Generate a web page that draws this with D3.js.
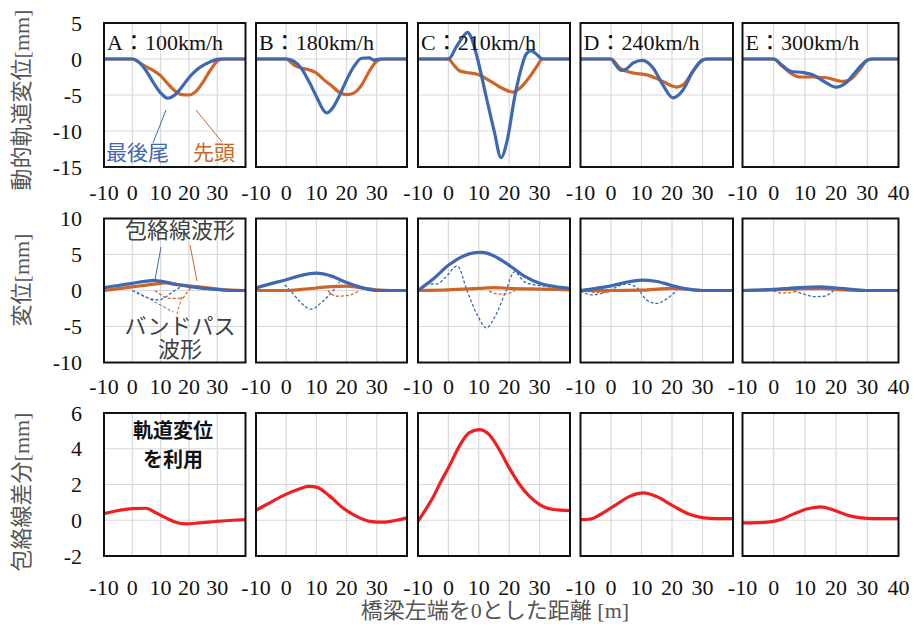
<!DOCTYPE html>
<html lang="ja">
<head>
<meta charset="UTF-8">
<title>包絡線差分</title>
<script src="https://d3js.org/d3.v7.min.js"></script>
<style>
  body { margin: 0; background: #fff; }
  svg text { font-family: "Liberation Serif", "Noto Sans CJK JP", serif; }
</style>
</head>
<body>
<svg id="chart" width="914" height="633"></svg>
<script>
// panel titles and tick labels
const panelNames = ["A：100km/h", "B：180km/h", "C：210km/h", "D：240km/h", "E：300km/h"];
const rowTitles = ["動的軌道変位[mm]", "変位[mm]", "包絡線差分[mm]"];
const xTitle = "橋梁左端を0とした距離 [m]";
const xTicks = [-10, 0, 10, 20, 30, 40];
const rowDomains = [[-15, 5], [-10, 10], [-2, 6]];
const rowTicks = [[5, 0, -5, -10, -15], [10, 5, 0, -5, -10], [6, 4, 2, 0, -2]];

// row 1: dynamic track displacement, 最後尾 (rear) and 先頭 (head), one list per panel A..E
const trackRear = [
  [[-10,0],[0,0],[2.5,-0.5],[5,-1.7],[7.5,-3.3],[10,-4.7],[12.5,-5.45],[15,-5.0],[17.5,-3.9],[20,-2.6],[22.5,-1.6],[25,-0.9],[27.5,-0.4],[30,-0.05],[31,0],[40,0]],
  [[-10,0],[0,0],[2.5,-0.3],[5,-1.3],[7.5,-3.1],[10,-5.2],[12.5,-7.2],[13.5,-7.5],[15,-7.0],[17.5,-5.2],[20,-2.9],[22.5,-1.0],[25,0.1],[27.5,0.15],[29,-0.15],[31,0],[40,0]],
  [[-10,0],[0,0],[2.5,1.6],[5,3.2],[6.3,3.7],[7.5,3.0],[9.6,0],[12.3,-5],[15.1,-10.1],[17.3,-13.7],[19.5,-11],[21.7,-5.5],[23.9,-1.4],[25.6,0.7],[27.2,1.15],[28.9,0.7],[31,0],[40,0]],
  [[-10,0],[0,0],[1.5,-0.8],[3.5,-1.6],[5,-1.4],[7.3,-0.55],[10.3,-0.2],[13.8,-1.25],[17,-3.6],[20.3,-5.4],[23.6,-4.3],[26.9,-1.7],[29.6,-0.3],[31.3,0],[40,0]],
  [[-10,0],[0,0],[2.5,-0.8],[5.4,-1.7],[9.7,-1.9],[12.5,-2.2],[16.8,-3.3],[20,-3.9],[23.2,-3.3],[26.4,-1.7],[29.6,-0.3],[31.2,0],[40,0]]
];
const trackHead = [
  [[-10,0],[0,0],[2.5,-0.5],[5,-1.1],[7.5,-1.6],[10,-2.3],[12.5,-3.4],[15,-4.4],[17.5,-4.95],[20,-5.0],[22.5,-4.5],[25,-3.2],[27.5,-1.6],[30,-0.3],[32,0],[40,0]],
  [[-10,0],[0,0],[2.5,-0.8],[5,-1.25],[7.5,-1.5],[10,-1.95],[12.5,-2.9],[15,-3.7],[17.5,-4.6],[20,-4.95],[22.5,-4.7],[25,-3.6],[27.5,-1.7],[30,-0.3],[32,0],[40,0]],
  [[-10,0],[0,0],[1.5,-0.7],[3.5,-1.6],[5.7,-1.85],[10,-2.2],[13.5,-3.0],[17.9,-4.1],[21.2,-4.6],[23.4,-4.1],[26.7,-2.5],[28.9,-1.15],[31,0],[40,0]],
  [[-10,0],[0,0],[2.9,-1.25],[7.3,-1.95],[11.7,-2.2],[16,-2.9],[21.5,-3.9],[23.6,-3.6],[26.9,-1.7],[30.1,-0.1],[31.5,0],[40,0]],
  [[-10,0],[0,0],[2.5,-0.9],[5.4,-1.95],[8.6,-2.5],[12.5,-2.5],[16.8,-2.6],[22.1,-3.1],[24.3,-2.9],[27.5,-1.5],[30.2,-0.1],[31.5,0],[40,0]]
];

// row 2: envelope (solid) and band-pass (dashed) waveforms
const envRear = [
  [[-10,0.4],[-5,0.7],[0,1.0],[5,1.3],[7.5,1.4],[10,1.3],[15,0.9],[20,0.55],[25,0.3],[30,0.15],[35,0],[40,0]],
  [[-10,0.37],[-5,0.95],[0,1.5],[5,2.1],[10,2.4],[15,2.0],[20,1.1],[25,0.4],[30,0],[40,0]],
  [[-10,0],[-5,1.6],[0,3.5],[5,4.8],[10,5.3],[11.2,5.3],[15,4.8],[20,3.5],[25,2.0],[30,1.0],[35,0.55],[40,0.3]],
  [[-10,0],[-5,0.3],[0,0.65],[5,1.15],[10,1.45],[15,1.25],[20,0.7],[25,0.2],[30,0],[40,0]],
  [[-10,0],[0,0.15],[5,0.3],[10,0.45],[15,0.5],[20,0.35],[25,0.15],[30,0],[40,0]]
];
const envHead = [
  [[-10,0],[-5,0.25],[0,0.5],[5,0.75],[10,1.0],[12,1.05],[15,0.85],[20,0.65],[25,0.45],[30,0.2],[35,0.05],[40,0]],
  [[-10,0],[0,0],[5,0.15],[10,0.35],[15,0.55],[20,0.6],[25,0.35],[30,0.1],[35,0],[40,0]],
  [[-10,0],[0,0.1],[10,0.3],[15,0.4],[20,0.3],[30,0.2],[40,0.1]],
  [[-10,0],[0,0],[10,0.05],[15,0.2],[20,0.3],[25,0.2],[30,0],[40,0]],
  [[-10,0],[0,0.1],[10,0.25],[15,0.3],[20,0.15],[25,0.05],[30,0],[40,0]]
];
const bandRear = [
  [[0,0],[3,-0.6],[6,-1.1],[9,-1.3],[11,-1.1],[13.5,-0.4],[17.5,0.6]],
  [[-0.5,0.8],[2,-0.3],[4.4,-1.5],[8.3,-2.6],[11.6,-1.7],[15.4,-0.1],[17.7,1.2]],
  [[-10,0],[-7,0.9],[-4,0.9],[-1,1.8],[2.9,3.4],[6.2,-0.1],[9.5,-3.4],[12.5,-5.2],[15.6,-3.4],[18.9,-0.1],[21.7,2.6],[25,1.2],[28,0.8],[32,0.6],[36,0.2],[40,0]],
  [[-10,-0.1],[-6.2,-0.6],[-2.9,-0.4],[0.8,0.3],[5,0.9],[8.5,0.4],[11.6,-1.3],[15,-1.8],[18.3,-1.15],[21.6,0]],
  [[6.4,0],[10,-0.55],[12.9,-0.85],[16.1,-0.8],[19.3,0]]
];
const bandHead = [
  [[8,0],[10.5,-0.7],[12.7,-1.1],[17.6,-1.1],[19.8,0],[22,0.6]],
  [[13.8,0],[16.5,-0.8],[21,-0.65],[24.3,0]],
  [[13.4,-0.1],[16.7,-0.5],[20,-0.35],[22,0]],
  [[-8,-0.1],[-4,-0.3],[-1.4,-0.25],[1,0]],
  [[0,0],[2.1,-0.35],[5.4,-0.3],[7.5,0]]
];

// row 3: envelope difference using track displacement
const envDiff = [
  [[-10,0.37],[-4.4,0.56],[0,0.65],[4.9,0.67],[8.4,0.41],[11.9,0.13],[15.4,-0.11],[19,-0.2],[23.6,-0.15],[29.5,-0.07],[35.4,0],[40,0.04]],
  [[-10,0.56],[-6.5,0.88],[-1,1.38],[4.5,1.76],[7.3,1.9],[10,1.85],[14.4,1.35],[18.8,0.69],[23.3,0.22],[27.7,-0.06],[32,-0.11],[36.5,0],[40,0.13]],
  [[-10,-0.05],[-7.5,0.6],[-5,1.3],[-2.5,2.15],[0.3,3.03],[3.6,4.15],[6.9,4.9],[10.2,5.07],[13.5,4.78],[16.8,3.93],[20.1,2.9],[23.4,2.0],[26.7,1.33],[30,0.88],[34.4,0.6],[40,0.54]],
  [[-10,0.03],[-6.7,0.07],[-3.5,0.32],[0.9,0.79],[6.3,1.35],[10.7,1.53],[15.1,1.31],[20.5,0.79],[26,0.32],[30.4,0.13],[34.7,0.09],[40,0.09]],
  [[-10,-0.15],[-2,-0.11],[2.3,0.04],[6.6,0.37],[10.9,0.64],[15.1,0.75],[19.4,0.56],[23.7,0.28],[28,0.13],[32.2,0.09],[40,0.09]]
];

// colours
const BLUE = "#3f68b3", ORANGE = "#cd6528", RED = "#f01e1e", GRID = "#d9d9d9";

// panel frame positions (px)
const colLeft = [104, 256, 418, 580.5, 742.5];
const colRight = [245.5, 407, 570, 733, 898.5];
const rowTop = [23, 218.5, 413];
const rowBottom = [167, 362.5, 556];
const xLabelY = [200, 394, 595];

const svg = d3.select("#chart");
svg.append("rect").attr("width", 914).attr("height", 633).attr("fill", "#fff");

function makePanel(r, c) {
  const x = d3.scaleLinear().domain([-10, 40]).range([colLeft[c], colRight[c]]);
  const y = d3.scaleLinear().domain(rowDomains[r]).range([rowBottom[r], rowTop[r]]);
  const g = svg.append("g");

  // grid
  g.selectAll(".vg").data(xTicks.slice(1, -1)).enter().append("line")
    .attr("x1", d => x(d)).attr("x2", d => x(d))
    .attr("y1", rowTop[r]).attr("y2", rowBottom[r])
    .attr("stroke", GRID).attr("stroke-width", 1.2);
  g.selectAll(".hg").data(rowTicks[r].slice(1, -1)).enter().append("line")
    .attr("x1", colLeft[c]).attr("x2", colRight[c])
    .attr("y1", d => y(d)).attr("y2", d => y(d))
    .attr("stroke", GRID).attr("stroke-width", 1.2);

  // x tick labels (the 40 only fits on the last panel)
  const xl = c === 4 ? xTicks : xTicks.slice(0, -1);
  g.selectAll(".xt").data(xl).enter().append("text")
    .attr("x", d => x(d)).attr("y", xLabelY[r])
    .attr("text-anchor", "middle").attr("font-size", 22).attr("fill", "#111")
    .text(d => d);

  // y tick labels on first column
  if (c === 0) {
    g.selectAll(".yt").data(rowTicks[r]).enter().append("text")
      .attr("x", 82).attr("y", d => y(d) + 7.5)
      .attr("text-anchor", "end").attr("font-size", 22).attr("fill", "#111")
      .text(d => d);
  }
  return { g, x, y };
}

function drawLine(p, pts, color, width, dash) {
  const line = d3.line().x(d => p.x(d[0])).y(d => p.y(d[1])).curve(d3.curveMonotoneX);
  p.g.append("path").datum(pts)
    .attr("d", line).attr("fill", "none")
    .attr("stroke", color).attr("stroke-width", width)
    .attr("stroke-dasharray", dash || null)
    .attr("stroke-linejoin", "round");
}

function frame(p, r, c) {
  p.g.append("rect")
    .attr("x", colLeft[c]).attr("y", rowTop[r])
    .attr("width", colRight[c] - colLeft[c]).attr("height", rowBottom[r] - rowTop[r])
    .attr("fill", "none").attr("stroke", "#111").attr("stroke-width", 2);
}

for (let c = 0; c < 5; c++) {
  // row 1
  let p = makePanel(0, c);
  drawLine(p, trackHead[c], ORANGE, 3.2);
  drawLine(p, trackRear[c], BLUE, 3.2);
  frame(p, 0, c);
  p.g.append("text")
    .attr("x", colLeft[c] + 3).attr("y", rowTop[0] + 27)
    .attr("font-size", 22).attr("fill", "#111")
    .text(panelNames[c]);

  // row 2
  p = makePanel(1, c);
  drawLine(p, bandRear[c], BLUE, 1.3, "3,2");
  drawLine(p, bandHead[c], ORANGE, 1.3, "3,2");
  drawLine(p, envHead[c], ORANGE, 3.2);
  drawLine(p, envRear[c], BLUE, 3.2);
  frame(p, 1, c);

  // row 3
  p = makePanel(2, c);
  drawLine(p, envDiff[c], RED, 3.2);
  frame(p, 2, c);
}

// annotations
const ann = svg.append("g").attr("font-size", 21);
ann.append("line").attr("x1", 166).attr("y1", 110).attr("x2", 153).attr("y2", 143).attr("stroke", BLUE).attr("stroke-width", 1);
ann.append("line").attr("x1", 196).attr("y1", 110).attr("x2", 222).attr("y2", 142).attr("stroke", ORANGE).attr("stroke-width", 1);
ann.append("text").attr("x", 106).attr("y", 160).attr("fill", BLUE).text("最後尾");
ann.append("text").attr("x", 193).attr("y", 160).attr("fill", ORANGE).text("先頭");

ann.append("text").attr("x", 180).attr("y", 238).attr("text-anchor", "middle").attr("fill", "#404040").attr("font-size", 22).text("包絡線波形");
ann.append("line").attr("x1", 161).attr("y1", 247).attr("x2", 155).attr("y2", 280).attr("stroke", BLUE).attr("stroke-width", 1);
ann.append("line").attr("x1", 190).attr("y1", 245).attr("x2", 197).attr("y2", 281).attr("stroke", ORANGE).attr("stroke-width", 1);
ann.append("line").attr("x1", 137).attr("y1", 292).attr("x2", 173).attr("y2", 312).attr("stroke", BLUE).attr("stroke-width", 1).attr("stroke-dasharray", "3,2");
ann.append("line").attr("x1", 182).attr("y1", 297).attr("x2", 176).attr("y2", 317).attr("stroke", ORANGE).attr("stroke-width", 1).attr("stroke-dasharray", "3,2");
const bp = ann.append("text").attr("text-anchor", "middle").attr("fill", "#404040").attr("font-size", 22);
bp.append("tspan").attr("x", 180).attr("y", 334).text("バンドパス");
bp.append("tspan").attr("x", 180).attr("y", 357).text("波形");

// row 3 note, two lines
const note = ann.append("text").attr("text-anchor", "middle").attr("fill", "#111")
  .attr("font-size", 20).attr("font-weight", "bold").style("font-family", "'Noto Sans CJK JP'");
note.append("tspan").attr("x", 173).attr("y", 438).text("軌道変位");
note.append("tspan").attr("x", 173).attr("y", 467).text("を利用");

// axis titles
const titleY = [100, 280, 492];
rowTitles.forEach((t, i) => {
  svg.append("text")
    .attr("transform", `translate(29,${titleY[i]}) rotate(-90)`)
    .attr("text-anchor", "middle").attr("font-size", 22).attr("fill", "#555")
    .text(t);
});
svg.append("text").attr("x", 495).attr("y", 618).attr("text-anchor", "middle")
  .attr("font-size", 22).attr("fill", "#555").text(xTitle);
</script>
</body>
</html>
